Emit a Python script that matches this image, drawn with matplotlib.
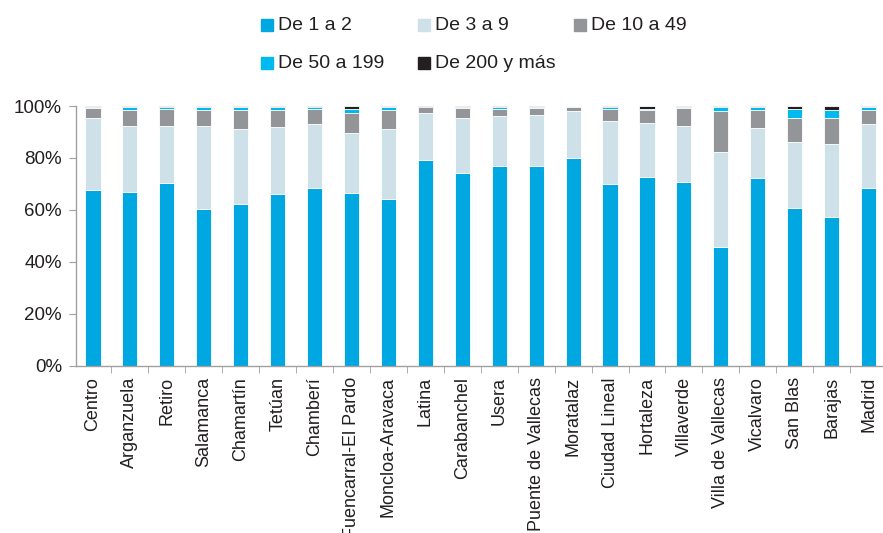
import numpy as np
import matplotlib.pyplot as plt
from matplotlib.patches import Rectangle

plt.rcParams['font.family'] = ['Liberation Sans', 'DejaVu Sans']

# distritos
distritos = ["Centro", "Arganzuela", "Retiro", "Salamanca", "Chamartín", "Tetúan",
             "Chamberí", "Fuencarral-El Pardo", "Moncloa-Aravaca", "Latina",
             "Carabanchel", "Usera", "Puente de Vallecas", "Moratalaz",
             "Ciudad Lineal", "Hortaleza", "Villaverde", "Villa de Vallecas",
             "Vicalvaro", "San Blas", "Barajas", "Madrid"]

series = ["De 1 a 2", "De 3 a 9", "De 10 a 49", "De 50 a 199", "De 200 y más"]

de_1_2 = [67.8, 67.0, 70.3, 60.3, 62.2, 66.0, 68.5, 66.7, 64.1, 79.1, 74.1,
          76.8, 76.8, 79.9, 70.1, 72.8, 70.9, 45.9, 72.2, 60.9, 57.2, 68.6]
de_3_9 = [27.6, 25.3, 21.9, 31.9, 29.0, 25.8, 24.5, 23.0, 27.1, 18.1, 21.3,
          19.4, 19.9, 18.0, 24.0, 20.5, 21.3, 36.4, 19.5, 25.3, 28.1, 24.4]
de_10_49 = [3.7, 6.0, 6.8, 6.3, 7.1, 6.5, 6.0, 7.5, 7.1, 2.4, 3.7,
            2.8, 2.4, 1.8, 4.9, 5.0, 6.9, 15.6, 6.6, 9.1, 10.0, 5.6]
de_50_199 = [0.6, 1.3, 0.6, 1.2, 1.4, 1.4, 0.7, 1.6, 1.4, 0.2, 0.6,
             0.7, 0.6, 0.2, 0.7, 0.7, 0.6, 1.7, 1.3, 3.7, 3.0, 1.1]
de_200 = [0.3, 0.4, 0.4, 0.3, 0.3, 0.3, 0.3, 1.2, 0.3, 0.2, 0.3,
          0.3, 0.3, 0.1, 0.3, 1.0, 0.3, 0.4, 0.4, 1.0, 1.7, 0.3]

colores = ["#00A7E1", "#CEE0E8", "#939598", "#00B9EE", "#231F20"]
texto = "#231F20"
gris = "#A0A0A0"

fig = plt.figure(figsize=(8.83, 5.33), dpi=100)
ax = fig.add_axes([76/883, 167/533, 807/883, 260/533])

x = np.arange(len(distritos))
bottom = np.zeros(len(distritos))
for vals, col in zip([de_1_2, de_3_9, de_10_49, de_50_199, de_200], colores):
    ax.bar(x, vals, 0.41, bottom=bottom, color=col, edgecolor="white",
           linewidth=0.6, clip_on=False)
    bottom += np.array(vals)

ax.set_xlim(-0.46, 21.39)
ax.set_ylim(0, 100)
ax.set_yticks(np.arange(0, 101, 20))
ax.set_yticklabels([f"{v}%" for v in range(0, 101, 20)])
ax.set_xticks(x)
ax.set_xticklabels(distritos, rotation=90)
ax.set_xticks(x[:-1] + 0.5, minor=True)

for s in ["top", "right"]:
    ax.spines[s].set_visible(False)
for s in ["left", "bottom"]:
    ax.spines[s].set_color(gris)
    ax.spines[s].set_linewidth(1.0)

ax.tick_params(axis="y", length=5, color=gris, labelsize=13.5, labelcolor=texto, pad=5)
ax.tick_params(axis="x", which="major", length=0, labelsize=13, labelcolor=texto, pad=8)
ax.tick_params(axis="x", which="minor", length=5, color=gris)

# leyenda manual en dos filas
pos_leyenda = [(261, 25), (418, 25), (574, 25), (261, 63), (418, 63)]
for (px, py), nombre, col in zip(pos_leyenda, series, colores):
    fig.add_artist(Rectangle((px/883, 1 - (py + 6)/533), 12/883, 12/533,
                             transform=fig.transFigure, color=col))
    fig.text((px + 17)/883, 1 - py/533, nombre, fontsize=14, color=texto,
             va="center", ha="left")

plt.savefig("out.png", dpi=100)
